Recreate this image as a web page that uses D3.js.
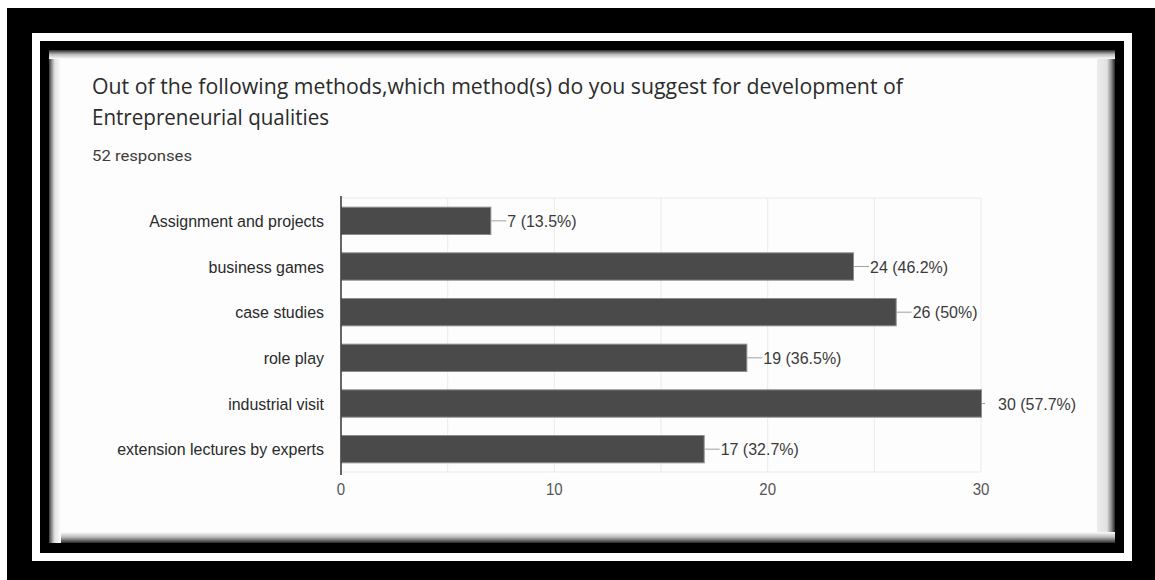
<!DOCTYPE html>
<html>
<head>
<meta charset="utf-8">
<script src="https://cdn.jsdelivr.net/npm/d3@7"></script>
<style>
  html, body { margin: 0; padding: 0; background: #fff; }
  svg { display: block; }
</style>
</head>
<body>
<svg id="chart" width="1155" height="580"></svg>
<script>
// Survey question and response counts
const titleLines = [
  "Out of the following methods,which method(s) do you suggest for development of",
  "Entrepreneurial qualities"
];
const responseNote = "52 responses";
const totalResponses = 52;
const categories = [
  "Assignment and projects",
  "business games",
  "case studies",
  "role play",
  "industrial visit",
  "extension lectures by experts"
];
const counts = [7, 24, 26, 19, 30, 17];
const percentLabels = ["13.5%", "46.2%", "50%", "36.5%", "57.7%", "32.7%"];
const tickValues = [0, 10, 20, 30];
const gridValues = [5, 10, 15, 20, 25, 30];

const svg = d3.select("#chart");
const defs = svg.append("defs");

function grad(id, x2, y2, stops) {
  const g = defs.append("linearGradient").attr("id", id)
    .attr("x1", 0).attr("y1", 0).attr("x2", x2).attr("y2", y2);
  stops.forEach(([o, c]) => g.append("stop").attr("offset", o).attr("stop-color", c));
}
grad("gLeft", 1, 0, [[0, "#3a3a3a"], [0.35, "#bdbdbd"], [0.5, "#e4e4e4"], [1, "#fdfdfd"]]);
grad("gTop", 0, 1, [[0, "#2a2a2a"], [0.5, "#bbbbbb"], [1, "#fdfdfd"]]);
grad("gRight", 1, 0, [[0, "#ececec"], [0.55, "#e2e2e2"], [0.8, "#8a8a8a"], [1, "#262626"]]);
grad("gBottom", 0, 1, [[0, "#fdfdfd"], [0.45, "#bdbdbd"], [1, "#2a2a2a"]]);

// Frame: black border, thin white rule, inner black rule, panel
svg.append("rect").attr("x", 7).attr("y", 8).attr("width", 1148).attr("height", 572).attr("fill", "#000");
svg.append("rect").attr("x", 32).attr("y", 33).attr("width", 1100).attr("height", 528).attr("fill", "#fff");
svg.append("rect").attr("x", 40).attr("y", 41).attr("width", 1084).attr("height", 512).attr("fill", "#000");
svg.append("rect").attr("x", 49).attr("y", 50).attr("width", 1066).attr("height", 493).attr("fill", "#fdfdfd");
// inset shading along the panel edges
svg.append("rect").attr("x", 1097).attr("y", 50).attr("width", 18).attr("height", 493).attr("fill", "url(#gRight)");
svg.append("rect").attr("x", 49).attr("y", 532).attr("width", 1066).attr("height", 11).attr("fill", "url(#gBottom)");
svg.append("rect").attr("x", 49).attr("y", 50).attr("width", 12).attr("height", 493).attr("fill", "url(#gLeft)");
svg.append("rect").attr("x", 49).attr("y", 50).attr("width", 1066).attr("height", 9).attr("fill", "url(#gTop)");

// Header
const titleWidths = [811, 237];
const titleBase = [94, 125];
titleLines.forEach((t, i) => {
  svg.append("text")
    .attr("x", 92).attr("y", titleBase[i])
    .attr("font-family", "'Open Sans', sans-serif")
    .attr("font-size", 21)
    .attr("fill", "#2b2b2b")
    .attr("textLength", titleWidths[i])
    .attr("lengthAdjust", "spacingAndGlyphs")
    .text(t);
});
svg.append("text")
  .attr("x", 92).attr("y", 161)
  .attr("font-family", "Roboto, sans-serif")
  .attr("font-size", 15)
  .attr("fill", "#3c3c3c")
  .attr("textLength", 100)
  .attr("lengthAdjust", "spacingAndGlyphs")
  .text(responseNote);

// Plot area
const plot = { left: 341, right: 981, top: 198, bottom: 472 };
const x = d3.scaleLinear().domain([0, 30]).range([plot.left, plot.right]);
const y = d3.scaleBand().domain(categories).range([plot.top, plot.bottom])
  .paddingInner(0.38).paddingOuter(0.19);

const sx = 0.94; // horizontal squeeze of the label glyphs
const fontLabel = "'Liberation Sans', Arial, sans-serif";

// grid
const grid = svg.append("g");
grid.selectAll("line.v").data(gridValues).join("line")
  .attr("x1", d => x(d)).attr("x2", d => x(d))
  .attr("y1", plot.top).attr("y2", plot.bottom)
  .attr("stroke", "#ebebeb").attr("stroke-width", 1);
grid.selectAll("line.h").data([plot.top, plot.bottom]).join("line")
  .attr("x1", plot.left).attr("x2", plot.right)
  .attr("y1", d => d).attr("y2", d => d)
  .attr("stroke", "#ebebeb").attr("stroke-width", 1);

// bars
const rows = categories.map((c, i) => ({ c, v: counts[i], p: percentLabels[i] }));
svg.append("g").selectAll("rect").data(rows).join("rect")
  .attr("x", x(0) + 0.5)
  .attr("y", d => y(d.c) + 0.5)
  .attr("width", d => x(d.v) - x(0))
  .attr("height", y.bandwidth() - 1)
  .attr("fill", "#4a4a4a")
  .attr("stroke", "#8c8c8c")
  .attr("stroke-width", 1);

// value labels with leader lines
const lab = svg.append("g");
rows.forEach(d => {
  const cy = y(d.c) + y.bandwidth() / 2;
  const x0 = x(d.v) + 1;
  const lead = d.v === 30 ? 3 : 15;
  lab.append("line")
    .attr("x1", x0).attr("x2", x0 + lead)
    .attr("y1", cy).attr("y2", cy)
    .attr("stroke", "#a0a0a0").attr("stroke-width", 1);
  const tx = d.v === 30 ? x0 + 16 : x0 + lead + 1;
  lab.append("text")
    .attr("transform", `translate(${tx},${cy + 6}) scale(${sx},1)`)
    .attr("font-family", fontLabel)
    .attr("font-size", 17)
    .attr("fill", "#3a3a3a")
    .text(`${d.v} (${d.p})`);
});

// category axis
const yAxis = svg.append("g");
yAxis.append("line")
  .attr("x1", plot.left).attr("x2", plot.left)
  .attr("y1", plot.top - 2).attr("y2", plot.bottom + 3)
  .attr("stroke", "#333").attr("stroke-width", 1.5);
rows.forEach(d => {
  const cy = y(d.c) + y.bandwidth() / 2;
  yAxis.append("text")
    .attr("transform", `translate(324,${cy + 6}) scale(${sx},1)`)
    .attr("text-anchor", "end")
    .attr("font-family", fontLabel)
    .attr("font-size", 17)
    .attr("fill", "#2a2a2a")
    .text(d.c);
});

// value axis tick labels
svg.append("g").selectAll("text").data(tickValues).join("text")
  .attr("transform", d => `translate(${x(d)},495) scale(${sx},1)`)
  .attr("text-anchor", "middle")
  .attr("font-family", fontLabel)
  .attr("font-size", 16)
  .attr("fill", "#555")
  .text(d => d);
</script>
</body>
</html>
